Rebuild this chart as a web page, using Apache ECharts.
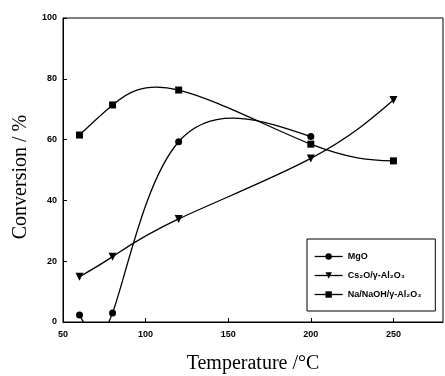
<!DOCTYPE html>
<html><head><meta charset="utf-8">
<script src="https://cdn.jsdelivr.net/npm/echarts@6/dist/echarts.min.js"></script>
<style>html,body{margin:0;padding:0;background:#fff}#c{width:445px;height:376px}</style>
</head><body><div id="c"></div>
<script>
const temps = [60, 80, 120, 200, 250];
const mgoX = [60, 80, 120, 200];
const mgoY = [2.3, 3, 59.3, 61];
const cs2oY = [14.9, 21.5, 33.9, 53.8, 73];
const naY = [61.5, 71.4, 76.3, 58.5, 53];
const xTicks = [50, 100, 150, 200, 250];
const yTicks = [0, 20, 40, 60, 80, 100];
const names = ['MgO', 'Cs\u2082O/\u03b3-Al\u2082O\u2083', 'Na/NaOH/\u03b3-Al\u2082O\u2083'];

const pairs = (xs, ys) => xs.map((x, i) => [x, ys[i]]);

// natural cubic spline slopes for values y over parameter t
function natural1D(t, y) {
  const n = t.length, h = [];
  for (let i = 0; i < n - 1; i++) h.push(t[i + 1] - t[i]);
  const M = new Array(n).fill(0);
  const a = [], b = [], c = [], d = [];
  for (let i = 1; i < n - 1; i++) {
    a.push(h[i - 1]); b.push(2 * (h[i - 1] + h[i])); c.push(h[i]);
    d.push(6 * ((y[i + 1] - y[i]) / h[i] - (y[i] - y[i - 1]) / h[i - 1]));
  }
  const m = b.length;
  for (let i = 1; i < m; i++) { const w = a[i] / b[i - 1]; b[i] -= w * c[i - 1]; d[i] -= w * d[i - 1]; }
  if (m > 0) {
    const sol = new Array(m); sol[m - 1] = d[m - 1] / b[m - 1];
    for (let i = m - 2; i >= 0; i--) sol[i] = (d[i] - c[i] * sol[i + 1]) / b[i];
    for (let i = 0; i < m; i++) M[i + 1] = sol[i];
  }
  const s = [];
  for (let i = 0; i < n - 1; i++) s.push((y[i + 1] - y[i]) / h[i] - h[i] * (2 * M[i] + M[i + 1]) / 6);
  s.push((y[n - 1] - y[n - 2]) / h[n - 2] + h[n - 2] * (M[n - 2] + 2 * M[n - 1]) / 6);
  return s;
}
// parametric (uniform) natural spline through pixel points, as bezier path data
function splinePath(pts) {
  const t = pts.map((p, i) => i);
  const dx = natural1D(t, pts.map(p => p[0]));
  const dy = natural1D(t, pts.map(p => p[1]));
  let s = 'M' + pts[0][0] + ' ' + pts[0][1];
  for (let i = 0; i < pts.length - 1; i++) {
    const h = 1 / 3;
    s += ' C' + (pts[i][0] + dx[i] * h) + ' ' + (pts[i][1] + dy[i] * h) + ' ' +
      (pts[i + 1][0] - dx[i + 1] * h) + ' ' + (pts[i + 1][1] - dy[i + 1] * h) + ' ' +
      pts[i + 1][0] + ' ' + pts[i + 1][1];
  }
  return s;
}

function curveSeries(xs, ys) {
  return {
    type: 'custom', clip: true, silent: true, z: 1,
    data: pairs(xs, ys),
    renderItem: function (params, api) {
      if (params.dataIndex !== 0) return null;
      const pts = xs.map((xv, i) => api.coord([xv, ys[i]]));
      return {
        type: 'path',
        shape: { pathData: splinePath(pts) },
        style: { stroke: '#000', fill: null, lineWidth: 1.3 }
      };
    }
  };
}

const chart = echarts.init(document.getElementById('c'));
const hidden = { opacity: 0 };
const legendLine = { color: '#000', width: 1.3, opacity: 1 };
chart.setOption({
  animation: false,
  grid: { left: 63, top: 18, right: 2, bottom: 54, show: true, borderColor: '#000', borderWidth: 1,
    containLabel: false, outerBoundsMode: 'none' },
  xAxis: {
    type: 'value', min: 50, max: 280, interval: 50,
    axisLine: { lineStyle: { color: '#000', width: 1 } },
    axisTick: { inside: true, length: 4, lineStyle: { color: '#000' } },
    splitLine: { show: false },
    axisLabel: { color: '#000', fontFamily: 'Liberation Sans', fontWeight: 'bold', fontSize: 9, margin: 8,
      showMaxLabel: false,
      formatter: v => xTicks.includes(v) ? String(v) : '' },
    name: 'Temperature /\u00b0C', nameLocation: 'middle', nameGap: 32,
    nameTextStyle: { color: '#000', fontFamily: 'Liberation Serif', fontSize: 20 }
  },
  yAxis: {
    type: 'value', min: 0, max: 100, interval: 20,
    axisLine: { show: true, lineStyle: { color: '#000', width: 1 } },
    axisTick: { show: true, inside: true, length: 4, lineStyle: { color: '#000' } },
    splitLine: { show: false },
    axisLabel: { color: '#000', fontFamily: 'Liberation Sans', fontWeight: 'bold', fontSize: 9, margin: 6,
      formatter: v => yTicks.includes(v) ? String(v) : '' },
    name: 'Conversion / %', nameLocation: 'middle', nameGap: 31,
    nameTextStyle: { color: '#000', fontFamily: 'Liberation Serif', fontSize: 20, padding: [0, 14, 0, 0] }
  },
  legend: {
    left: 307, top: 239, orient: 'vertical', itemGap: 10,
    itemWidth: 28, itemHeight: 8,
    backgroundColor: '#fff', borderColor: '#000', borderWidth: 1,
    padding: [13, 14, 12, 7],
    textStyle: { color: '#000', fontFamily: 'Liberation Sans', fontWeight: 'bold', fontSize: 9 },
    lineStyle: legendLine,
    data: names
  },
  series: [
    { name: names[0], type: 'line', data: pairs(mgoX, mgoY), symbol: 'circle', symbolSize: 7, z: 3,
      itemStyle: { color: '#000' }, lineStyle: hidden },
    { name: names[1], type: 'line', data: pairs(temps, cs2oY), symbol: 'triangle', symbolRotate: 180, symbolSize: 8, z: 3,
      itemStyle: { color: '#000' }, lineStyle: hidden },
    { name: names[2], type: 'line', data: pairs(temps, naY), symbol: 'rect', symbolSize: 7, z: 3,
      itemStyle: { color: '#000' }, lineStyle: hidden },
    curveSeries(mgoX, mgoY),
    curveSeries(temps, cs2oY),
    curveSeries(temps, naY)
  ]
});
</script></body></html>
